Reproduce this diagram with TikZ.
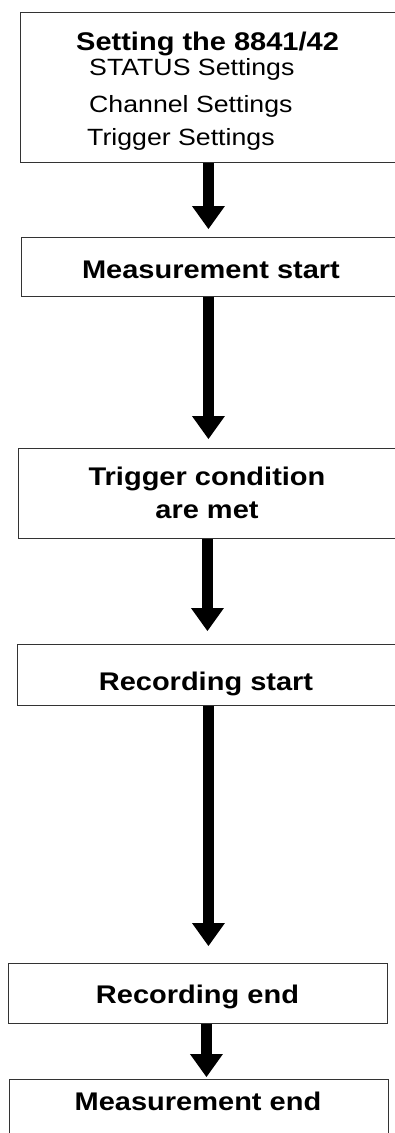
\documentclass[tikz,border=0pt]{standalone}
\usepackage{fontspec}
\setmainfont{Liberation Sans}
\usepackage{graphicx}
\usetikzlibrary{arrows.meta}
\newcommand{\vsq}[1]{\scalebox{1}[0.88]{#1}}
\begin{document}
\begin{tikzpicture}[x=1pt,y=-1pt,
  box/.style={draw=black!80, line width=0.9pt, rectangle, inner sep=0pt, anchor=north west},
  btxt/.style={font=\fontsize{29}{33}\selectfont\bfseries, inner sep=0pt, anchor=base},
  rtxt/.style={font=\fontsize{26.7}{30}\selectfont, inner sep=0pt, anchor=base west},
  flow/.style={line width=11pt, -{Triangle[width=33pt,length=23pt,line width=0pt]}}]
\useasboundingbox (0,0) rectangle (395,1133);
\clip (0,0) rectangle (395,1133);
\fill[white] (0,0) rectangle (395,1133);
% boxes
\node[box, minimum width=378pt, minimum height=150pt] (b1) at (20,12) {};
\node[box, minimum width=380pt, minimum height=59pt] (b2) at (21,237) {};
\node[box, minimum width=378pt, minimum height=90pt] (b3) at (18,448) {};
\node[box, minimum width=378pt, minimum height=61pt] (b4) at (17,644) {};
\node[box, minimum width=379pt, minimum height=60pt] (b5) at (8,963) {};
\node[box, minimum width=379pt, minimum height=70pt] (b6) at (9,1079) {};
% texts
\node[btxt, anchor=base west] (t1) at (76,50) {\vsq{Setting the 8841/42}};
\node[rtxt] (t1a) at (89,75) {\vsq{STATUS Settings}};
\node[rtxt] (t1b) at (89,112) {\vsq{Channel Settings}};
\node[rtxt] (t1c) at (87,145) {\vsq{Trigger Settings}};
\node[btxt] (t2) at (211,278) {\vsq{Measurement start}};
\node[btxt] (t3a) at (207,485) {\vsq{Trigger condition}};
\node[btxt] (t3b) at (207,518) {\vsq{are met}};
\node[btxt] (t4) at (206,690) {\vsq{Recording start}};
\node[btxt] (t5) at (197.5,1003) {\vsq{Recording end}};
\node[btxt] (t6) at (198,1110) {\vsq{Measurement end}};
% arrows
\draw[flow] ([xshift=-1pt]b1.south) -- ([xshift=-3pt,yshift=8pt]b2.north);
\draw[flow] ([xshift=-3pt]b2.south) -- ([xshift=1pt,yshift=9pt]b3.north);
\draw[flow] (b3.south) -- ([xshift=1pt,yshift=13pt]b4.north);
\draw[flow] ([xshift=2pt]b4.south) -- ([xshift=10.5pt,yshift=17pt]b5.north);
\draw[flow] ([xshift=8.5pt]b5.south) -- ([xshift=7.5pt,yshift=2pt]b6.north);
\end{tikzpicture}
\end{document}
